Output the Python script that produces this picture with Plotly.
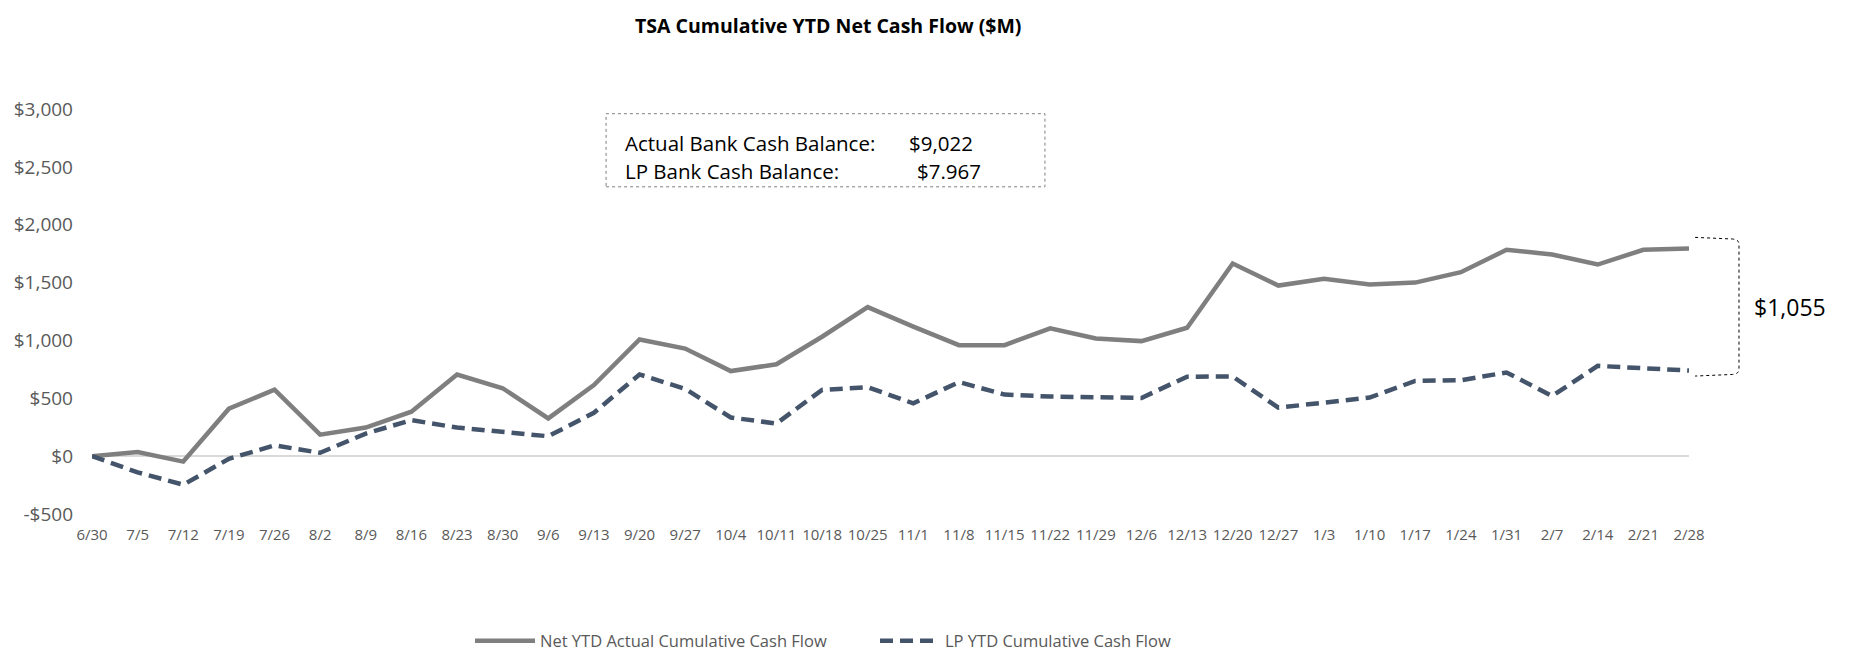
import plotly.graph_objects as go

# ---- data ----
dates = ["6/30", "7/5", "7/12", "7/19", "7/26", "8/2", "8/9", "8/16", "8/23", "8/30",
         "9/6", "9/13", "9/20", "9/27", "10/4", "10/11", "10/18", "10/25", "11/1", "11/8",
         "11/15", "11/22", "11/29", "12/6", "12/13", "12/20", "12/27", "1/3", "1/10", "1/17",
         "1/24", "1/31", "2/7", "2/14", "2/21", "2/28"]

net_actual = [0, 35, -47, 410, 575, 186, 247, 384, 705, 587,
              326, 614, 1008, 930, 735, 794, 1032, 1288, 1119, 959,
              959, 1105, 1017, 994, 1110, 1665, 1474, 1532, 1483, 1500,
              1590, 1783, 1743, 1656, 1783, 1795]

lp_ytd = [0, -140, -247, -23, 93, 29, 195, 311, 247, 209,
          172, 375, 706, 581, 334, 282, 573, 596, 456, 640,
          532, 515, 509, 503, 687, 688, 419, 462, 506, 650,
          656, 723, 520, 780, 757, 740]

y_tick_vals = [-500, 0, 500, 1000, 1500, 2000, 2500, 3000]
y_tick_text = ["-$500", "$0", "$500", "$1,000", "$1,500", "$2,000", "$2,500", "$3,000"]

series_names = ["Net YTD Actual Cumulative Cash Flow", "LP YTD Cumulative Cash Flow"]
title_text = "TSA Cumulative YTD Net Cash Flow ($M)"
box_labels = ["Actual Bank Cash Balance:", "LP Bank Cash Balance:"]
box_values = ["$9,022", "$7.967"]
gap_label = "$1,055"

FONT = "Open Sans"
TICK_COLOR = "#595959"

# the page body adds an 8px offset, so the figure is 8px smaller than the window
W, H = 1843, 644
M_L, M_R, M_T, M_B = 84, 162, 101, 138
PLOT_W, PLOT_H = W - M_L - M_R, H - M_T - M_B

fig = go.Figure()
fig.add_trace(go.Scatter(
    x=dates, y=net_actual, mode="lines", name=series_names[0],
    line=dict(color="#7f7f7f", width=4.5),
))
fig.add_trace(go.Scatter(
    x=dates, y=lp_ytd, mode="lines", name=series_names[1],
    line=dict(color="#44546a", width=4.5, dash="13px,7px"),
))

# title (as an annotation so its box stays inside the figure)
fig.add_annotation(xref="paper", yref="paper",
                   x=(820 - M_L) / PLOT_W, y=1 + (M_T - 2) / PLOT_H,
                   text="<b>" + title_text + "</b>", showarrow=False,
                   xanchor="center", yanchor="top",
                   font=dict(family=FONT, size=19.5, color="#000000"))

# info box
fig.add_shape(type="rect", xref="paper", yref="paper",
              x0=0.3219, x1=0.5967, y0=0.8079, y1=0.9884,
              line=dict(color="#7f7f7f", width=1, dash="dot"),
              fillcolor="white", layer="below")
box_y = [0.917, 0.8473]
box_val_x = [0.5101, 0.5153]
for i in range(2):
    fig.add_annotation(xref="paper", yref="paper", x=0.3323, y=box_y[i],
                       text=box_labels[i], showarrow=False, xanchor="left", yanchor="middle",
                       font=dict(family=FONT, size=20.5, color="#000000"))
    fig.add_annotation(xref="paper", yref="paper", x=box_val_x[i], y=box_y[i],
                       text=box_values[i], showarrow=False, xanchor="left", yanchor="middle",
                       font=dict(family=FONT, size=20.5, color="#000000"))

# bracket
xL, xR, yT, yB = 1.0038, 1.0313, 0.683, 0.3406
path = (f"M {xL},{yT} L {xR-0.004},{yT-0.004} Q {xR},{yT-0.006} {xR},{yT-0.016} "
        f"L {xR},{yB+0.016} Q {xR},{yB+0.006} {xR-0.004},{yB+0.004} L {xL},{yB}")
fig.add_shape(type="path", xref="paper", yref="paper", path=path,
              line=dict(color="#000000", width=1, dash="dot"))
fig.add_annotation(xref="paper", yref="paper", x=1.0632, y=0.5123, text=gap_label,
                   showarrow=False, xanchor="center", yanchor="middle",
                   font=dict(family=FONT, size=23, color="#000000"))

fig.update_layout(
    width=W, height=H,
    margin=dict(l=M_L, r=M_R, t=M_T, b=M_B, autoexpand=False),
    paper_bgcolor="white", plot_bgcolor="white",
    showlegend=True,
    legend=dict(orientation="h", x=0.2367, xanchor="left", y=-0.3136, yanchor="middle",
                font=dict(family=FONT, size=16.5, color=TICK_COLOR),
                entrywidth=330, itemwidth=60, bgcolor="rgba(0,0,0,0)"),
    xaxis=dict(type="category", range=[0, len(dates) - 1], tickmode="array",
               tickvals=dates, ticktext=dates, tickangle=0, automargin=False,
               showgrid=False, zeroline=False, showline=False, ticks="",
               ticklabelstandoff=10,
               tickfont=dict(family=FONT, size=15, color=TICK_COLOR)),
    yaxis=dict(range=[-500, 3000], tickmode="array", tickvals=y_tick_vals, ticktext=y_tick_text,
               automargin=False,
               showgrid=False, zeroline=True, zerolinecolor="#d9d9d9", zerolinewidth=1.5,
               showline=False, ticks="", ticklabelstandoff=18,
               tickfont=dict(family=FONT, size=19, color=TICK_COLOR)),
)

fig.write_html("out.html")
